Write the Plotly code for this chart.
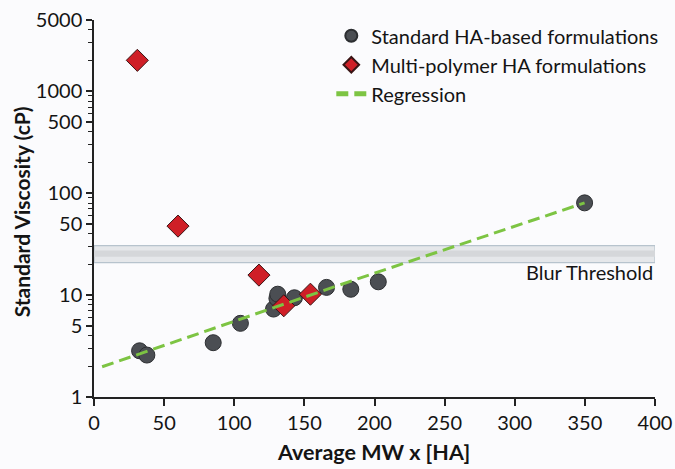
import plotly.graph_objects as go

# Standard HA-based formulations
std_x = [32.5, 37.7, 85.0, 104.4, 128.0, 130.4, 131.0, 142.9, 165.8, 183.1, 202.7, 349.8]
std_y = [2.84, 2.58, 3.41, 5.28, 7.29, 9.28, 10.2, 9.41, 11.9, 11.4, 13.5, 80.3]

# Multi-polymer HA formulations
multi_x = [30.9, 59.9, 117.6, 135.3, 154.3]
multi_y = [2010, 47.5, 15.7, 7.85, 10.2]

# Regression line
reg_x = [5.8, 189.0, 349.8]
reg_y = [1.98, 14.6, 80.3]

# Blur threshold band (cP)
band_low, band_high = 20.8, 30.5
band_x_range = [0, 400]

y_tickvals = [1, 5, 10, 50, 100, 500, 1000, 5000]
y_ticktext = ["1", "5", "10", "50", "100", "500", "1000", "5000"]
y_minor = [m * 10 ** d for d in range(0, 4) for m in [2, 3, 4, 6, 7, 8, 9] if m * 10 ** d < 5000]

x_tickvals = [0, 50, 100, 150, 200, 250, 300, 350, 400]

FONT = "Lato"
TXT = "#141414"
BG = "#fbfbfd"
FS = 20

fig = go.Figure()

# band layers (gradient look)
bx = [band_x_range[0], band_x_range[1], band_x_range[1], band_x_range[0], band_x_range[0]]
fig.add_trace(go.Scatter(x=bx, y=[band_low, band_low, band_high, band_high, band_low],
                         fill="toself", fillcolor="#e5e7ea", mode="lines",
                         line=dict(color="#b7c3cd", width=1.2),
                         hoverinfo="skip", showlegend=False))
mid_lo = band_low * 1.14
mid_hi = band_high * 0.90
fig.add_trace(go.Scatter(x=bx, y=[mid_lo, mid_lo, mid_hi, mid_hi, mid_lo],
                         fill="toself", fillcolor="#d5d7da", mode="lines",
                         line=dict(width=0), hoverinfo="skip", showlegend=False))

fig.add_trace(go.Scatter(x=std_x, y=std_y, mode="markers", name="Standard HA-based formulations",
                         marker=dict(symbol="circle", size=16, color="#4b4e53",
                                     line=dict(color="#2c2e31", width=1)),
                         legendrank=1))
fig.add_trace(go.Scatter(x=multi_x, y=multi_y, mode="markers", name="Multi-polymer HA formulations",
                         marker=dict(symbol="diamond", size=17, color="#cf1f27",
                                     line=dict(color="#3a1515", width=1)),
                         legendrank=2))
fig.add_trace(go.Scatter(x=reg_x, y=reg_y, mode="lines", name="Regression",
                         line=dict(color="#7dc443", width=3, dash="12px,6px"),
                         legendrank=3))

fig.add_annotation(x=400, y=1.225, xref="x", yref="y", text="Blur Threshold",
                   showarrow=False, xanchor="right", yanchor="middle",
                   font=dict(family=FONT, size=FS, color=TXT))

# axis titles as annotations for exact placement
fig.add_annotation(x=-0.13, y=0.49, xref="paper", yref="paper", text="<b>Standard Viscosity (cP)</b>",
                   textangle=-90, showarrow=False, xanchor="center", yanchor="middle",
                   font=dict(family=FONT, size=21, color=TXT))
fig.add_annotation(x=0.499, y=-0.146, xref="paper", yref="paper", text="<b>Average MW x [HA]</b>",
                   showarrow=False, xanchor="center", yanchor="middle",
                   font=dict(family=FONT, size=21.5, color=TXT))

fig.update_layout(
    width=675, height=469, autosize=False,
    margin=dict(l=93.5, r=17.4, t=20, b=72),
    paper_bgcolor=BG, plot_bgcolor=BG,
    font=dict(family=FONT, size=FS, color=TXT),
    legend=dict(x=0.423, y=1.01, xanchor="left", yanchor="top",
                bgcolor="rgba(0,0,0,0)", font=dict(family=FONT, size=FS, color=TXT),
                itemsizing="constant", tracegroupgap=0),
    showlegend=True,
)

fig.update_xaxes(range=[0, 400], tickvals=x_tickvals, ticks="outside", ticklen=7,
                 tickwidth=1.5, tickcolor="#222", showline=True, linecolor="#222", linewidth=1.5,
                 showgrid=False, zeroline=False, automargin=False,
                 tickfont=dict(family=FONT, size=FS, color=TXT))
fig.update_yaxes(type="log", range=[0, 3.69897], tickvals=y_tickvals, ticktext=y_ticktext,
                 ticks="outside", ticklen=6, tickwidth=1.5, tickcolor="#222",
                 minor=dict(tickvals=y_minor, ticks="outside", ticklen=4, tickwidth=1, tickcolor="#222"),
                 showline=True, linecolor="#222", linewidth=1.5, showgrid=False, zeroline=False,
                 automargin=False,
                 tickfont=dict(family=FONT, size=FS, color=TXT))

fig.write_html("out.html", config={"responsive": False, "displayModeBar": False},
               post_script="document.body.style.margin='0px';document.body.style.overflow='hidden';document.body.style.background='#fbfbfd';")
